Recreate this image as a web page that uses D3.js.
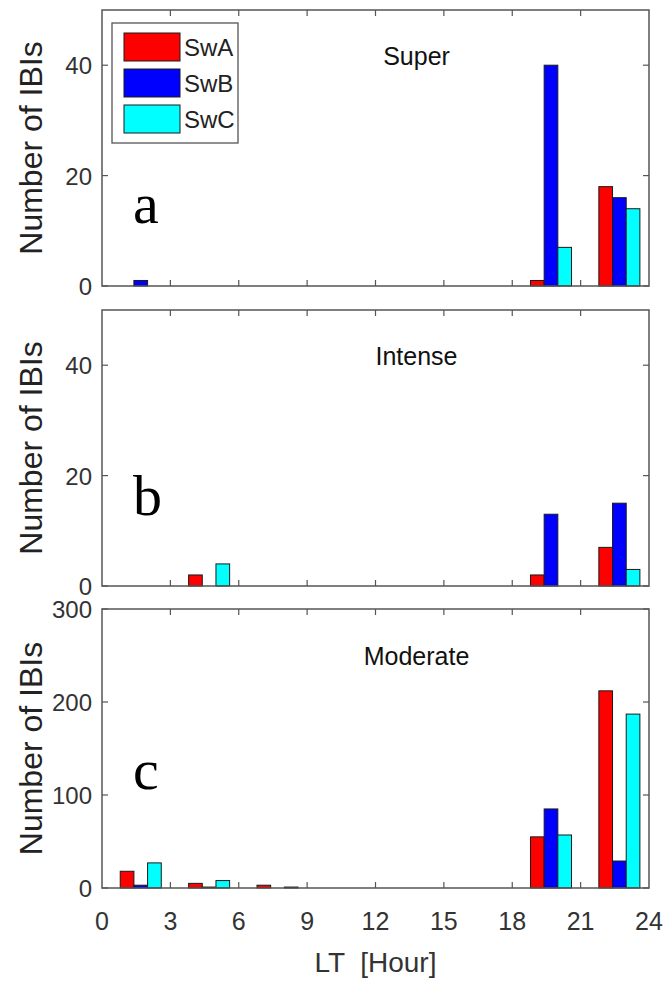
<!DOCTYPE html>
<html>
<head>
<meta charset="utf-8">
<script src="https://cdn.jsdelivr.net/npm/d3@7"></script>
<style>
  body { margin: 0; background: #fff; }
  svg { display: block; }
  text { font-family: "Liberation Sans", Arial, sans-serif; }
</style>
</head>
<body>
<script>
// centri dei bin orari (LT) e serie
const hours = [1.7, 4.7, 7.7, 10.7, 13.7, 16.7, 19.7, 22.7];
const series = ["SwA", "SwB", "SwC"];
const colors = ["#ff0000", "#0000ff", "#00ffff"];
const xTicks = [0, 3, 6, 9, 12, 15, 18, 21, 24];

// a) Super
const superA = [0, 0, 0, 0, 0, 0, 1, 18];
const superB = [1, 0, 0, 0, 0, 0, 40, 16];
const superC = [0, 0, 0, 0, 0, 0, 7, 14];
// b) Intense
const intenseA = [0, 2, 0, 0, 0, 0, 2, 7];
const intenseB = [0, 0, 0, 0, 0, 0, 13, 15];
const intenseC = [0, 4, 0, 0, 0, 0, 0, 3];
// c) Moderate
const moderateA = [18, 5, 3, 0, 0, 0, 55, 212];
const moderateB = [3, 1, 0, 0, 0, 0, 85, 29];
const moderateC = [27, 8, 1, 0, 0, 0, 57, 187];

const width = 663, height = 982;
const svg = d3.select("body").append("svg")
  .attr("width", width)
  .attr("height", height);

// scala x comune ai tre pannelli
const x = d3.scaleLinear().domain([0, 24]).range([102, 649]);
const barW = 0.6; // ore

const panels = [
  { title: "Super", letter: "a", letterY: 223, top: 10, bottom: 286, ymax: 50, yTicks: [0, 20, 40], data: [superA, superB, superC], legend: true },
  { title: "Intense", letter: "b", letterY: 515, top: 310, bottom: 586, ymax: 50, yTicks: [0, 20, 40], data: [intenseA, intenseB, intenseC] },
  { title: "Moderate", letter: "c", letterY: 789, top: 609, bottom: 888, ymax: 300, yTicks: [0, 100, 200, 300], data: [moderateA, moderateB, moderateC], xlabels: true }
];

panels.forEach(function (p) {
  const y = d3.scaleLinear().domain([0, p.ymax]).range([p.bottom, p.top]);
  const g = svg.append("g");

  // barre raggruppate
  p.data.forEach(function (vals, si) {
    g.selectAll(".bar" + si)
      .data(vals.map((v, i) => ({ h: hours[i], v: v })).filter(d => d.v > 0))
      .enter().append("rect")
      .attr("x", d => x(d.h + (si - 1) * barW - barW / 2))
      .attr("width", d => x(barW) - x(0))
      .attr("y", d => y(d.v))
      .attr("height", d => y(0) - y(d.v))
      .style("fill", colors[si])
      .style("stroke", "#1a1a1a")
      .style("stroke-width", 1);
  });

  // tick x interni (sopra e sotto)
  const tickLen = 6;
  xTicks.slice(1, -1).forEach(function (t) {
    g.append("line").attr("x1", x(t)).attr("x2", x(t)).attr("y1", p.bottom).attr("y2", p.bottom - tickLen)
      .style("stroke", "#555").style("stroke-width", 1.2);
    g.append("line").attr("x1", x(t)).attr("x2", x(t)).attr("y1", p.top).attr("y2", p.top + tickLen)
      .style("stroke", "#555").style("stroke-width", 1.2);
  });
  // tick y interni (sinistra e destra)
  p.yTicks.forEach(function (t) {
    g.append("line").attr("x1", x(0)).attr("x2", x(0) + tickLen).attr("y1", y(t)).attr("y2", y(t))
      .style("stroke", "#555").style("stroke-width", 1.2);
    g.append("line").attr("x1", x(24)).attr("x2", x(24) - tickLen).attr("y1", y(t)).attr("y2", y(t))
      .style("stroke", "#555").style("stroke-width", 1.2);
    g.append("text")
      .attr("x", x(0) - 10)
      .attr("y", y(t) + 9)
      .attr("text-anchor", "end")
      .style("font-size", "24px")
      .style("fill", "#333")
      .text(t);
  });

  // riquadro
  g.append("rect")
    .attr("x", x(0)).attr("y", p.top)
    .attr("width", x(24) - x(0)).attr("height", p.bottom - p.top)
    .style("fill", "none").style("stroke", "#555").style("stroke-width", 1.5);

  // titolo del pannello
  g.append("text")
    .attr("x", x(13.8))
    .attr("y", p.top + (p.bottom - p.top) * 0.2)
    .attr("text-anchor", "middle")
    .style("font-size", "25px")
    .style("fill", "#111")
    .text(p.title);

  // lettera del pannello
  g.append("text")
    .attr("x", 133)
    .attr("y", p.letterY)
    .style("font-family", "'Liberation Serif', 'DejaVu Serif', serif")
    .style("font-size", "58px")
    .style("fill", "#000")
    .text(p.letter);

  // etichetta asse y
  g.append("text")
    .attr("transform", `translate(42, ${(p.top + p.bottom) / 2}) rotate(-90)`)
    .attr("text-anchor", "middle")
    .style("font-size", "32px")
    .style("fill", "#222")
    .text("Number of IBIs");

  if (p.xlabels) {
    xTicks.forEach(function (t) {
      g.append("text")
        .attr("x", x(t))
        .attr("y", p.bottom + 42)
        .attr("text-anchor", "middle")
        .style("font-size", "25px")
        .style("fill", "#333")
        .text(t);
    });
    g.append("text")
      .attr("x", x(12))
      .attr("y", 972)
      .attr("text-anchor", "middle")
      .style("font-size", "28px")
      .style("fill", "#333")
      .style("white-space", "pre")
      .text("LT  [Hour]");
  }

  if (p.legend) {
    const lg = g.append("g");
    lg.append("rect")
      .attr("x", 112).attr("y", 23).attr("width", 126).attr("height", 120)
      .style("fill", "#fff").style("stroke", "#555").style("stroke-width", 1.3);
    series.forEach(function (s, i) {
      lg.append("rect")
        .attr("x", 124).attr("y", 33 + i * 36).attr("width", 56).attr("height", 28)
        .style("fill", colors[i]).style("stroke", "#1a1a1a").style("stroke-width", 1);
      lg.append("text")
        .attr("x", 184).attr("y", 56 + i * 36)
        .style("font-size", "24px")
        .style("fill", "#222")
        .text(s);
    });
  }
});
</script>
</body>
</html>
